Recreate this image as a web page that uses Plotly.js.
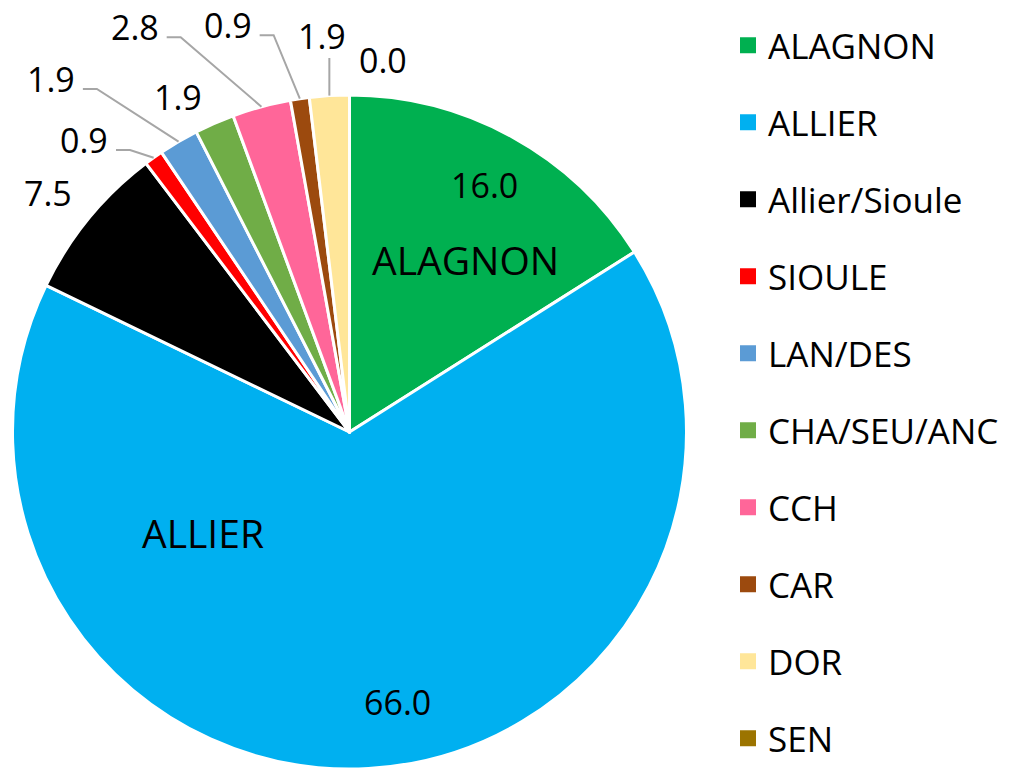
<!DOCTYPE html>
<html>
<head>
<meta charset="utf-8">
<script src="https://cdn.plot.ly/plotly-3.0.1.min.js"></script>
<style>html,body{margin:0;padding:0;background:#fff;}#chart{width:1013px;height:770px;}</style>
</head>
<body>
<div id="chart"></div>
<script>
// ---- data ----
const categories = ["ALAGNON", "ALLIER", "Allier/Sioule", "SIOULE", "LAN/DES", "CHA/SEU/ANC", "CCH", "CAR", "DOR", "SEN"];
const values = [16.0, 66.0, 7.5, 0.9, 1.9, 1.9, 2.8, 0.9, 1.9, 0.0];
const colors = ["#00B050", "#00B0F0", "#000000", "#FF0000", "#5B9BD5", "#70AD47", "#FF6699", "#9C4A0E", "#FFE699", "#9C7400"];
const nameLabels = ["ALAGNON", "ALLIER"]; // category names drawn inside slices

// ---- style / layout (positions) ----
const W = 1013, H = 770;
const pieBox = {left: 12.5, right: 686.5, top: 95, bottom: 769};
// value label placement: [radius factor, angle offset in degrees from slice mid]
const valuePos = [[0.835, -0.3], [0.814, -6.8], [1.142, -0.9], [1.171, -6.75], [1.372, -9.75],
                  [1.117, -3.5], [1.360, -12.8], [1.260, -8.2], [1.178, -0.6], [1.108, 5.1]];
const namePos = [[0.616, 5.1], [0.528, 58.9]];
const leader = [null, null, null, "elbow", "elbow", null, "elbow", "elbow", "vertical", null];
const FONT = "Open Sans";

const cx = (pieBox.left + pieBox.right) / 2;
const cy = (pieBox.top + pieBox.bottom) / 2;
const R = Math.min(pieBox.right - pieBox.left, pieBox.bottom - pieBox.top) / 2;
const px = x => x / W;
const py = y => 1 - y / H;

const total = values.reduce((a, b) => a + b, 0);
let cum = 0;
const mids = values.map(v => { const m = (cum + v / 2) / total * 360; cum += v; return m; });
const polar = (ang, r) => {
  const a = ang * Math.PI / 180;
  return [cx + r * Math.sin(a), cy - r * Math.cos(a)];
};

const annotations = [];
const shapes = [];
values.forEach((v, i) => {
  const [lx, ly] = polar(mids[i] + valuePos[i][1], R * valuePos[i][0]);
  annotations.push({x: px(lx), y: py(ly), xref: "paper", yref: "paper", text: v.toFixed(1),
    showarrow: false, xanchor: "center", yanchor: "middle", font: {family: FONT, size: 34, color: "#000"}});
  const edge = polar(mids[i], R);
  if (leader[i] === "elbow") {
    const sx = lx + 32, sy = ly + 10;
    const ex = sx + 14;
    shapes.push({type: "path", xref: "paper", yref: "paper",
      path: `M${px(sx)},${py(sy)} L${px(ex)},${py(sy)} L${px(edge[0])},${py(edge[1])}`,
      line: {color: "#A6A6A6", width: 2}});
  } else if (leader[i] === "vertical") {
    shapes.push({type: "path", xref: "paper", yref: "paper",
      path: `M${px(edge[0])},${py(ly + 22)} L${px(edge[0])},${py(edge[1])}`,
      line: {color: "#A6A6A6", width: 2}});
  }
});
nameLabels.forEach((n, i) => {
  const idx = categories.indexOf(n);
  const [lx, ly] = polar(mids[idx] + namePos[i][1], R * namePos[i][0]);
  annotations.push({x: px(lx), y: py(ly), xref: "paper", yref: "paper", text: n,
    showarrow: false, xanchor: "center", yanchor: "middle", font: {family: FONT, size: 39, color: "#000"}});
});

const traces = [{
  type: "pie", labels: categories, values: values, sort: false, direction: "clockwise", rotation: 0,
  marker: {colors: colors, line: {color: "#FFFFFF", width: 3}},
  textinfo: "none", hoverinfo: "label+value", showlegend: false,
  domain: {x: [px(pieBox.left), px(pieBox.right)], y: [py(pieBox.bottom), py(pieBox.top)]}
}];
// legend entries
categories.forEach((c, i) => {
  traces.push({type: "scatter", mode: "markers", x: [null], y: [null], name: c, legendgroup: "g" + i,
    marker: {symbol: "square", size: 16, color: colors[i]}, hoverinfo: "skip"});
});

const layout = {
  width: W, height: H,
  margin: {l: 0, r: 0, t: 0, b: 0, autoexpand: false},
  paper_bgcolor: "#FFFFFF", plot_bgcolor: "rgba(0,0,0,0)",
  xaxis: {visible: false, fixedrange: true},
  yaxis: {visible: false, fixedrange: true},
  showlegend: true,
  legend: {x: 728 / W, xanchor: "left", y: 1 - 16 / H, yanchor: "top", traceorder: "grouped",
    tracegroupgap: 28.5, font: {family: FONT, size: 35, color: "#000"}, bgcolor: "rgba(0,0,0,0)"},
  annotations: annotations,
  shapes: shapes
};
Plotly.newPlot("chart", traces, layout, {displayModeBar: false, staticPlot: true});
</script>
</body>
</html>
